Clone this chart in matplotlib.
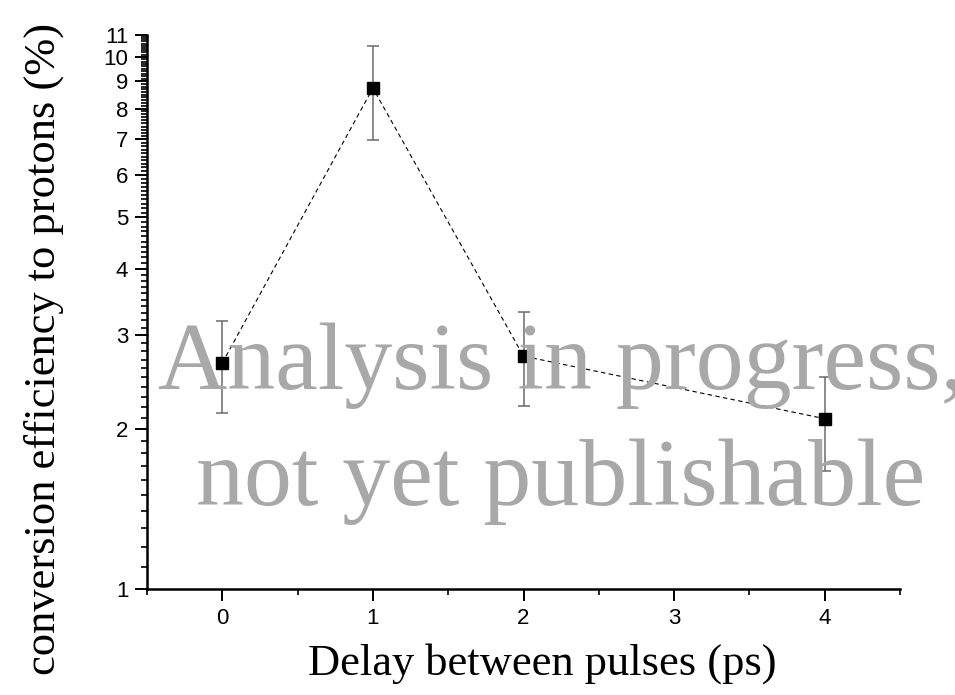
import numpy as np
import matplotlib

matplotlib.use("Agg")
import matplotlib.pyplot as plt
from matplotlib.ticker import FixedLocator, FixedFormatter, NullFormatter

# Data
delay = [0, 1, 2, 4]
efficiency = [2.66, 8.74, 2.74, 2.09]
err_low = [2.14, 6.98, 2.21, 1.67]
err_high = [3.19, 10.49, 3.32, 2.50]

y_major = [1, 2, 3, 4, 5, 6, 7, 8, 9, 10, 11]
x_major = [0, 1, 2, 3, 4]

fig = plt.figure(figsize=(9.55, 6.95), dpi=100)
ax = fig.add_axes([147 / 955, 106 / 695, 753 / 955, 554 / 695])

yerr = [np.array(efficiency) - np.array(err_low), np.array(err_high) - np.array(efficiency)]
ax.errorbar(delay, efficiency, yerr=yerr, fmt='none', ecolor='#6b6b6b',
            elinewidth=1.1, capsize=4.3, capthick=1.1, zorder=2)
ax.plot(delay, efficiency, color='black', lw=0.8, dashes=(4, 3), zorder=2)
ax.plot(delay, efficiency, 's', color='black', ms=8.5, zorder=3)

ax.set_yscale('log')
ax.set_ylim(1, 11)
ax.set_xlim(-0.5, 4.5)

ax.yaxis.set_major_locator(FixedLocator(y_major))
ax.yaxis.set_major_formatter(FixedFormatter([str(v) for v in y_major]))
minor_y = [round(v, 1) for v in np.arange(1.1, 11.0, 0.1) if abs(v - round(v)) > 1e-6]
ax.yaxis.set_minor_locator(FixedLocator(minor_y))
ax.yaxis.set_minor_formatter(NullFormatter())

ax.xaxis.set_major_locator(FixedLocator(x_major))
ax.xaxis.set_minor_locator(FixedLocator([-0.5, 0.5, 1.5, 2.5, 3.5, 4.5]))

for s in ['top', 'right']:
    ax.spines[s].set_visible(False)
for s in ['left', 'bottom']:
    ax.spines[s].set_linewidth(1.8)

ax.tick_params(axis='both', which='major', direction='out', length=8.5, width=1.4,
               labelsize=16, pad=5)
ax.tick_params(axis='both', which='minor', direction='out', length=4.5, width=1.2)
for lab in ax.get_xticklabels() + ax.get_yticklabels():
    lab.set_fontfamily('Liberation Sans')

fig.text(542 / 955, (695 - 675) / 695, 'Delay between pulses (ps)',
         family='Liberation Serif', fontsize=32, ha='center', va='baseline')
fig.text(44 / 955, (695 - 349) / 695, 'conversion efficiency to protons (%)',
         family='Liberation Serif', fontsize=32, ha='center', va='center', rotation=90)

# watermark
fig.text(561 / 955, (695 - 389) / 695, 'Analysis in progress,', family='Liberation Serif',
         fontsize=69, color='#a8a8a8', ha='center', va='baseline', zorder=10)
fig.text(561 / 955, (695 - 505) / 695, 'not yet publishable', family='Liberation Serif',
         fontsize=69, color='#a8a8a8', ha='center', va='baseline', zorder=10)

fig.savefig('out.png', dpi=100)
